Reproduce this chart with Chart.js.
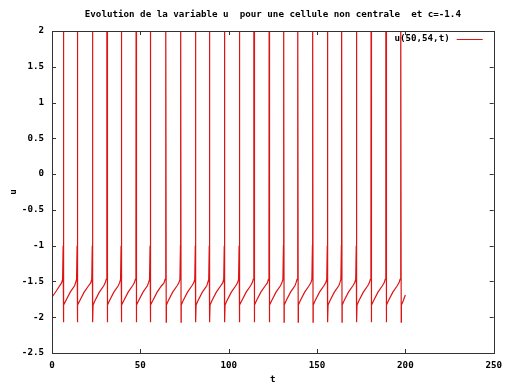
<!DOCTYPE html>
<html>
<head>
<meta charset="utf-8">
<script src="https://cdn.jsdelivr.net/npm/chart.js@4.4.0/dist/chart.umd.min.js"></script>
<style>
  html, body { margin: 0; padding: 0; background: #fff; }
  #wrap { width: 509px; height: 385px; }
</style>
</head>
<body>
<div id="wrap"><canvas id="chart" width="509" height="385"></canvas></div>
<script>
// spike times (t of each upstroke)
const spikeT = [6.3, 14.2, 22.8, 31.0, 39.1, 47.5, 55.5, 64.3, 72.7, 81.1, 89.0, 97.5,
                105.9, 114.2, 122.8, 131.0, 139.0, 147.4, 155.8, 163.8, 172.2, 180.5, 188.9, 197.3];
// shape of one cycle
const afterSpikeDt = [0.35, 0.45, 1.5, 4.0, 6.5];        // trough, reset, recovery
const afterSpikeU  = [-2.07, -1.83, -1.77, -1.65, -1.56];
const beforeSpikeDt = [-0.9, -0.3, 0.0, 0.1, 0.15];       // slow rise, upstroke, peak
const beforeSpikeU  = [-1.52, -1.47, -1.0, 2.5, 2.5];
const startPts = [[0, -1.72], [2.5, -1.63]];
const endPt = [200, -1.69];

const xTicks = [0, 50, 100, 150, 200, 250];
const yTicks = [-2.5, -2, -1.5, -1, -0.5, 0, 0.5, 1, 1.5, 2];

const titleText = 'Evolution de la variable u  pour une cellule non centrale  et c=-1.4';
const legendText = 'u(50,54,t)';
const lineColor = '#dc1414';
const monoBold = 'bold 9.2px "DejaVu Sans Mono", "Liberation Mono", monospace';

// build the point list
const pts = [];
startPts.forEach(p => pts.push({ x: p[0], y: p[1] }));
spikeT.forEach(ts => {
  beforeSpikeDt.forEach((dt, i) => pts.push({ x: ts + dt, y: beforeSpikeU[i] }));
  afterSpikeDt.forEach((dt, i) => {
    if (ts + dt < endPt[0]) pts.push({ x: ts + dt, y: afterSpikeU[i] });
  });
});
pts.push({ x: endPt[0], y: endPt[1] });

const frame = {
  id: 'frame',
  afterDatasetsDraw(chart) {
    const { ctx, chartArea: a, scales } = chart;
    ctx.save();
    ctx.strokeStyle = '#333';
    ctx.lineWidth = 1;
    ctx.beginPath();
    const tl = 4;
    xTicks.forEach(v => {
      const x = Math.round(scales.x.getPixelForValue(v)) + 0.5;
      ctx.moveTo(x, a.bottom); ctx.lineTo(x, a.bottom - tl);
      ctx.moveTo(x, a.top); ctx.lineTo(x, a.top + tl);
    });
    yTicks.forEach(v => {
      const y = Math.round(scales.y.getPixelForValue(v)) + 0.5;
      ctx.moveTo(a.left, y); ctx.lineTo(a.left + tl, y);
      ctx.moveTo(a.right, y); ctx.lineTo(a.right - tl, y);
    });
    ctx.stroke();
    ctx.strokeRect(Math.round(a.left) + 0.5, Math.round(a.top) + 0.5,
                   Math.round(a.right - a.left), Math.round(a.bottom - a.top));

    // legend
    ctx.fillStyle = '#000';
    ctx.font = monoBold;
    ctx.textAlign = 'right';
    ctx.textBaseline = 'middle';
    ctx.fillText(legendText, a.right - 44, a.top + 8);
    ctx.strokeStyle = lineColor;
    ctx.beginPath();
    ctx.moveTo(a.right - 37, a.top + 8.5);
    ctx.lineTo(a.right - 11, a.top + 8.5);
    ctx.stroke();

    // title
    ctx.fillStyle = '#000';
    ctx.textAlign = 'center';
    ctx.fillText(titleText, (a.left + a.right) / 2, 15);
    ctx.restore();
  }
};

const tickFont = { family: '"DejaVu Sans Mono", monospace', size: 9.2, weight: 'bold' };

new Chart(document.getElementById('chart'), {
  type: 'line',
  data: {
    datasets: [{
      label: legendText,
      data: pts,
      borderColor: lineColor,
      borderWidth: 1.2,
      pointRadius: 0,
      tension: 0,
      fill: false
    }]
  },
  options: {
    responsive: false,
    animation: false,
    parsing: false,
    layout: { padding: { top: 31, right: 11, left: 0, bottom: 0 } },
    plugins: { legend: { display: false }, title: { display: false }, tooltip: { enabled: false } },
    scales: {
      x: {
        type: 'linear', min: 0, max: 250,
        afterFit: s => { s.height = 32; },
        afterBuildTicks: s => { s.ticks = xTicks.map(v => ({ value: v })); },
        grid: { display: false, drawTicks: false },
        border: { display: false },
        ticks: { color: '#000', font: tickFont, padding: 7, maxRotation: 0, callback: v => String(v) },
        title: { display: true, text: 't', color: '#000', font: tickFont, padding: { top: 0, bottom: 0 } }
      },
      y: {
        type: 'linear', min: -2.5, max: 2,
        afterFit: s => { s.width = 52; },
        afterBuildTicks: s => { s.ticks = yTicks.map(v => ({ value: v })); },
        grid: { display: false, drawTicks: false },
        border: { display: false },
        ticks: { color: '#000', font: tickFont, padding: 8, callback: v => String(v) },
        title: { display: true, text: 'u', color: '#000', font: tickFont, padding: { top: 8, bottom: 0 } }
      }
    }
  },
  plugins: [frame]
});
</script>
</body>
</html>
